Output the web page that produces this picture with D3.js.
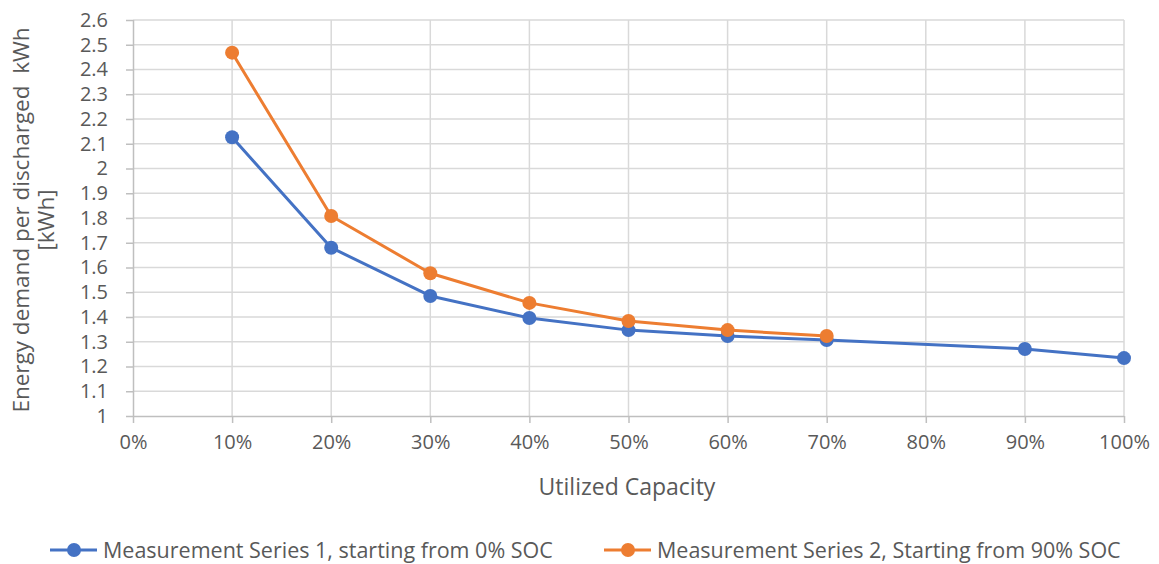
<!DOCTYPE html>
<html><head><meta charset="utf-8">
<script src="https://cdn.jsdelivr.net/npm/d3@7"></script>
<style>
html,body{margin:0;padding:0;background:#fff;}
text{font-family:"Open Sans",sans-serif;fill:#595959;}
</style></head>
<body><svg id="chart" width="1159" height="564"></svg>
<script>
const xTicks = [0,0.1,0.2,0.3,0.4,0.5,0.6,0.7,0.8,0.9,1.0];
const yTicks = [1,1.1,1.2,1.3,1.4,1.5,1.6,1.7,1.8,1.9,2,2.1,2.2,2.3,2.4,2.5,2.6];
const capacity = [0.1,0.2,0.3,0.4,0.5,0.6,0.7,0.9,1.0];
const series1 = [2.126,1.680,1.485,1.396,1.347,1.323,1.307,1.271,1.234];
const capacity2 = [0.1,0.2,0.3,0.4,0.5,0.6,0.7];
const series2 = [2.468,1.808,1.577,1.457,1.384,1.347,1.323];
const seriesNames = ["Measurement Series 1, starting from 0% SOC","Measurement Series 2, Starting from 90% SOC"];
const colors = ["#4472c4","#ed7d31"];

const svg = d3.select("#chart");
const x = d3.scaleLinear().domain([0,1]).range([133,1124]);
const y = d3.scaleLinear().domain([1,2.6]).range([416,20]);

// grid
svg.append("g").selectAll("line").data(yTicks.slice(1)).join("line")
  .attr("x1",x(0)).attr("x2",x(1)).attr("y1",d=>y(d)).attr("y2",d=>y(d))
  .attr("stroke","#d9d9d9").attr("stroke-width",1.5);
svg.append("g").selectAll("line").data(xTicks.slice(1)).join("line")
  .attr("x1",d=>x(d)).attr("x2",d=>x(d)).attr("y1",y(1)).attr("y2",y(2.6))
  .attr("stroke","#d9d9d9").attr("stroke-width",1.5);

// axes
const xAxis = d3.axisBottom(x).tickValues(xTicks).tickFormat(d3.format(".0%")).tickSize(7).tickPadding(12);
const gx = svg.append("g").attr("transform",`translate(0,${y(1)})`).call(xAxis);
const yAxis = d3.axisLeft(y).tickValues(yTicks).tickFormat(d=>d3.format("")(+d.toFixed(1))).tickSize(7).tickPadding(18);
const gy = svg.append("g").attr("transform",`translate(${x(0)},0)`).call(yAxis);
[gx,gy].forEach(g=>{
  g.select(".domain").attr("stroke","#bfbfbf").attr("stroke-width",1.5);
  g.selectAll(".tick line").attr("stroke","#bfbfbf").attr("stroke-width",1.5);
  g.selectAll(".tick text").attr("font-size",20).attr("font-family","Open Sans").attr("fill","#595959");
});
gy.select(".domain").attr("d",`M0.5,${y(2.6)}V${y(1)}`);
gx.select(".domain").attr("d",`M${x(0)},0.5H${x(1)}`);

// lines
const line = d3.line().x(d=>x(d[0])).y(d=>y(d[1]));
const data = [d3.zip(capacity,series1), d3.zip(capacity2,series2)];
data.forEach((pts,i)=>{
  svg.append("path").datum(pts).attr("d",line).attr("fill","none")
    .attr("stroke",colors[i]).attr("stroke-width",3).attr("stroke-linejoin","round");
  svg.append("g").selectAll("circle").data(pts).join("circle")
    .attr("cx",d=>x(d[0])).attr("cy",d=>y(d[1])).attr("r",7).attr("fill",colors[i]);
});

// titles
svg.append("text").attr("x",627).attr("y",495).attr("text-anchor","middle")
  .attr("font-size",23).text("Utilized Capacity");
const yt = svg.append("text").attr("transform","translate(0,220) rotate(-90)").attr("text-anchor","middle").attr("font-size",22.5);
yt.append("tspan").attr("x",0).attr("y",29).text("Energy demand per discharged  kWh").style("white-space","pre");
yt.append("tspan").attr("x",0).attr("y",54).text("[kWh]");

// legend
const legX = [50,604];
seriesNames.forEach((n,i)=>{
  const g = svg.append("g").attr("transform",`translate(${legX[i]},550)`);
  g.append("line").attr("x1",0).attr("x2",47).attr("stroke",colors[i]).attr("stroke-width",3);
  g.append("circle").attr("cx",24).attr("r",7).attr("fill",colors[i]);
  g.append("text").attr("x",53).attr("y",7.5).attr("font-size",21.5).text(n);
});
</script></body></html>
